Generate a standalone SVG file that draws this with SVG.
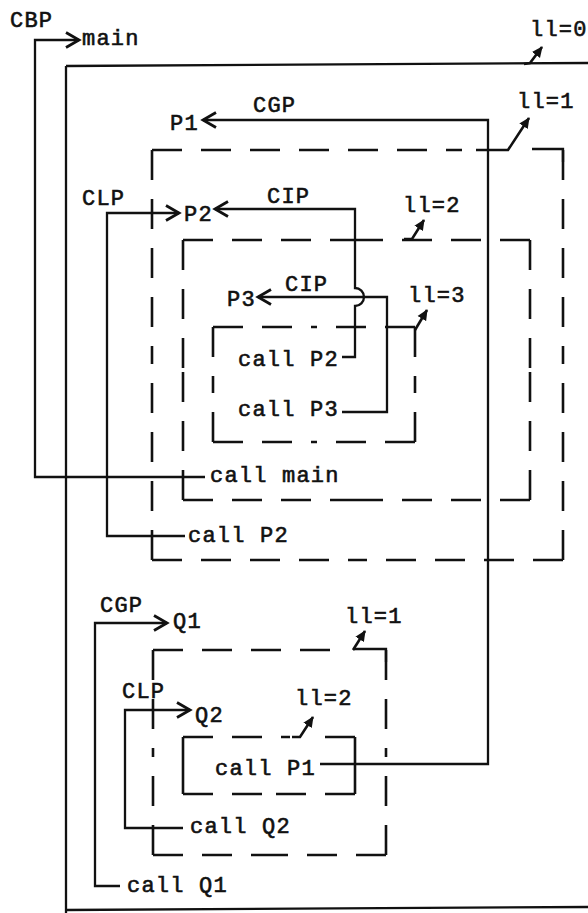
<svg xmlns="http://www.w3.org/2000/svg" width="588" height="913" viewBox="0 0 588 913">
<style>
.t{font-family:"Liberation Mono","DejaVu Sans Mono",monospace;font-size:22px;letter-spacing:1.2px;fill:#111;stroke:#111;stroke-width:0.6}
.s{fill:none;stroke:#111;stroke-width:2.3}
.d{fill:none;stroke:#111;stroke-width:2.6;stroke-dasharray:30 19}
.p{fill:none;stroke:#111;stroke-width:2.6;marker-end:url(#fh)}
.c{fill:none;stroke:#111;stroke-width:2.3;marker-end:url(#ah)}
</style>
<defs>
<marker id="ah" markerUnits="userSpaceOnUse" markerWidth="18" markerHeight="18" viewBox="0 0 18 18" refX="15" refY="9" orient="auto">
<path d="M2,1.5 L15,9 L2,16.5" fill="none" stroke="#111" stroke-width="2.8"/>
</marker>
<marker id="fh" markerUnits="userSpaceOnUse" markerWidth="12" markerHeight="12" viewBox="0 0 12 12" refX="10" refY="6" orient="auto">
<path d="M0,1 L11,6 L0,11 Z" fill="#111"/>
</marker>
</defs>

<g id="scope-ll0">
<path class="s" d="M588,63 L66,66 M66,66 V913 M65,910 L588,907"/>
<text class="t" x="530" y="36">ll=0</text>
<path class="p" d="M524,64 L530,63 L542,47"/>
</g>

<g id="scope-P1">
<path class="d" d="M152,150 H462 M152,150 V355 M152,560 V355 M563,150 V355 M563,560 V355 M152,560 H357 M563,560 H357"/>
<path class="s" d="M532,149 H563 V162"/>
<path class="p" d="M476,150 H508 L529,118"/>
<text class="t" x="517" y="108">ll=1</text>
<text class="t" x="170" y="130">P1</text>
<text class="t" x="184" y="221">P2</text>
<text class="t" x="188" y="542">call P2</text>
</g>

<g id="scope-P2">
<path class="d" d="M183,240 H356 M530,240 H356 M183,240 V370 M183,500 V370 M530,240 V370 M530,500 V370 M183,500 H356 M530,500 H356"/>
<path class="p" d="M404,239 H412 L424,220"/>
<text class="t" x="403" y="212">ll=2</text>
<text class="t" x="227" y="306">P3</text>
<text class="t" x="210" y="482">call main</text>
</g>

<g id="scope-P3">
<path class="d" d="M213,327 H314 M415,327 H314 M213,327 V384 M213,442 V384 M415,327 V384 M415,442 V384 M213,442 H314 M415,442 H314"/>
<path class="p" d="M415,330 L427,310"/>
<text class="t" x="408" y="302">ll=3</text>
<text class="t" x="238" y="366">call P2</text>
<text class="t" x="238" y="416">call P3</text>
</g>

<g id="scope-Q1">
<path class="d" d="M153,650 H340 M153,650 V752 M153,855 V752 M386,650 V752 M386,855 V752 M153,855 H270 M386,855 H270"/>
<path class="s" d="M353,649 H386 V662"/>
<path class="p" d="M353,650 L365,631"/>
<text class="t" x="345" y="623">ll=1</text>
<text class="t" x="173" y="628">Q1</text>
<text class="t" x="195" y="722">Q2</text>
<text class="t" x="190" y="833">call Q2</text>
</g>

<g id="scope-Q2">
<path class="d" d="M183,737 H290 M355,737 H315 M183,737 V766 M183,794 V766 M355,737 V766 M355,794 V766 M183,794 H269 M355,794 H269"/>
<path class="p" d="M292,737 H300 L313,717"/>
<text class="t" x="295" y="705">ll=2</text>
<text class="t" x="215" y="775">call P1</text>
</g>

<g id="scope-main">
<text class="t" x="82" y="45">main</text>
<text class="t" x="127" y="892">call Q1</text>
</g>

<g id="connectors">
<path class="c" d="M205,477 H35 V40 H79"/>
<text class="t" x="10" y="27">CBP</text>
<path class="c" d="M320,764 H488 V120 H203"/>
<text class="t" x="253" y="112">CGP</text>
<path class="c" d="M185,536 H107 V213 H179"/>
<text class="t" x="82" y="205">CLP</text>
<path class="c" d="M342,357 H355 V306 A9,9 0 0 0 355,288 V209 H215"/>
<text class="t" x="267" y="203">CIP</text>
<path class="c" d="M342,412 H387 V297 H258"/>
<text class="t" x="285" y="291">CIP</text>
<path class="c" d="M120,886 H95 V623 H167"/>
<text class="t" x="100" y="612">CGP</text>
<path class="c" d="M183,828 H125 V710 H190"/>
<text class="t" x="122" y="698">CLP</text>
</g>
</svg>
